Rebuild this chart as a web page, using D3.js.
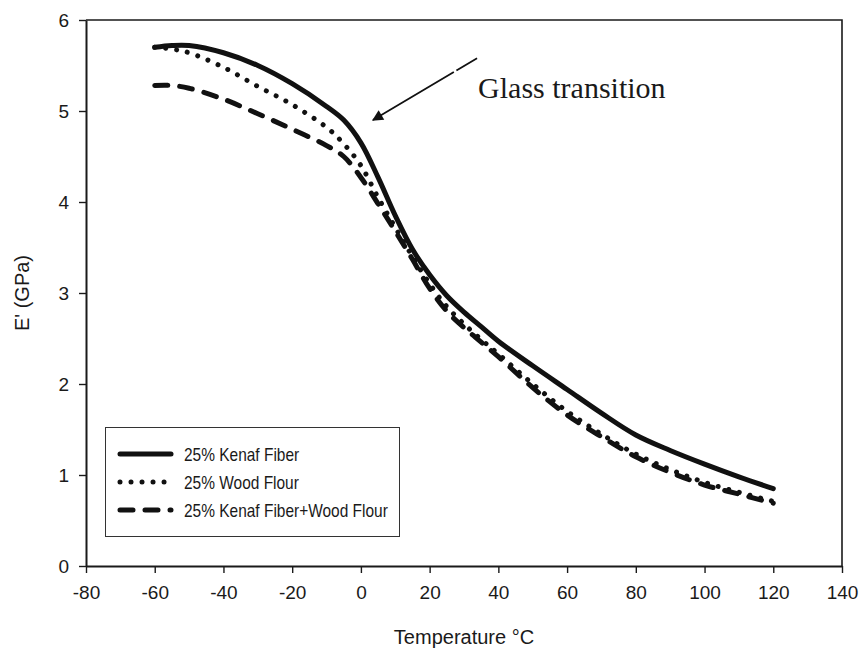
<!DOCTYPE html>
<html lang="en">
<head>
  <meta charset="utf-8">
  <title>Storage modulus vs temperature</title>
  <style type="text/css">
    body { margin: 0; background: #fff; }
    svg { display: block; }
    text { font-family: "Liberation Sans", Arial, sans-serif; fill: #1a1a1a; }
  </style>
  <script src="https://cdnjs.cloudflare.com/ajax/libs/d3/7.8.5/d3.min.js"></script>
</head>
<body>
<div id="chart"></div>
<script>
  var temps = [-60, -55, -50, -40, -30, -20, -10, -5, 0, 5, 10, 15, 20, 25, 30, 35, 40, 50, 60, 70, 80, 90, 100, 110, 120];

  // E' (GPa) for each sample
  var kenafFiber = [5.70, 5.72, 5.72, 5.64, 5.50, 5.30, 5.05, 4.90, 4.65, 4.27, 3.85, 3.48, 3.20, 2.97, 2.79, 2.63, 2.47, 2.20, 1.94, 1.68, 1.44, 1.27, 1.12, 0.98, 0.85];
  var woodFlour = [5.70, 5.68, 5.64, 5.48, 5.27, 5.07, 4.82, 4.64, 4.40, 4.05, 3.72, 3.40, 3.10, 2.85, 2.66, 2.49, 2.33, 2.00, 1.70, 1.45, 1.23, 1.06, 0.92, 0.81, 0.71];
  var kenafWood = [5.28, 5.28, 5.25, 5.13, 4.97, 4.80, 4.62, 4.50, 4.27, 3.98, 3.68, 3.37, 3.05, 2.80, 2.62, 2.46, 2.30, 1.96, 1.66, 1.42, 1.20, 1.03, 0.89, 0.79, 0.69];

  var seriesNames = ["25% Kenaf Fiber", "25% Wood Flour", "25% Kenaf Fiber+Wood Flour"];
  var xTicks = [-80, -60, -40, -20, 0, 20, 40, 60, 80, 100, 120, 140];
  var yTicks = [0, 1, 2, 3, 4, 5, 6];

  var w = 861, h = 656;
  var margin = {top: 20, right: 19, bottom: 90, left: 86};

  var svg = d3.select("#chart").append("svg")
    .attr("width", w)
    .attr("height", h);

  var x = d3.scaleLinear().domain([-80, 140]).range([margin.left, w - margin.right]);
  var y = d3.scaleLinear().domain([0, 6]).range([h - margin.bottom, margin.top]);

  // plain hyphen, no decimals, like the original
  var fmt = function(d) { return String(d); };

  // frame (top + right)
  svg.append("path")
    .attr("d", "M" + x(-80) + "," + y(6) + "H" + x(140) + "V" + y(0))
    .attr("fill", "none")
    .attr("stroke", "#1a1a1a")
    .attr("stroke-width", 1.6);

  var xAxis = svg.append("g")
    .attr("transform", "translate(0," + y(0) + ")")
    .call(d3.axisBottom(x).tickValues(xTicks).tickFormat(fmt).tickSize(7).tickPadding(13).tickSizeOuter(0));

  var yAxis = svg.append("g")
    .attr("transform", "translate(" + x(-80) + ",0)")
    .call(d3.axisLeft(y).tickValues(yTicks).tickFormat(fmt).tickSize(7).tickPadding(10).tickSizeOuter(0));

  [xAxis, yAxis].forEach(function(g) {
    g.select(".domain").attr("stroke", "#1a1a1a").attr("stroke-width", 2);
    g.selectAll(".tick line").attr("stroke", "#1a1a1a").attr("stroke-width", 1.4);
    g.selectAll(".tick text")
      .style("font-family", "'Liberation Sans', Arial, sans-serif")
      .style("font-size", "19px")
      .attr("fill", "#1a1a1a");
  });

  // axis titles
  svg.append("text")
    .attr("x", (x(-80) + x(140)) / 2)
    .attr("y", 644)
    .attr("text-anchor", "middle")
    .style("font-size", "20px")
    .text("Temperature \u00B0C");

  svg.append("text")
    .attr("transform", "translate(29," + ((y(0) + y(6)) / 2) + ") rotate(-90)")
    .attr("text-anchor", "middle")
    .style("font-size", "20px")
    .text("E' (GPa)");

  // curves
  var styles = [
    {data: kenafFiber, dash: null},
    {data: woodFlour, dash: "0.01 11"},
    {data: kenafWood, dash: "13 12"}
  ];

  var line = d3.line()
    .x(function(d) { return x(d[0]); })
    .y(function(d) { return y(d[1]); })
    .curve(d3.curveCatmullRom.alpha(0.5));

  svg.append("g").selectAll("path")
    .data(styles)
    .enter().append("path")
    .attr("d", function(s) { return line(temps.map(function(t, i) { return [t, s.data[i]]; })); })
    .attr("fill", "none")
    .attr("stroke", "#111")
    .attr("stroke-width", 5)
    .attr("stroke-linecap", "round")
    .attr("stroke-linejoin", "round")
    .attr("stroke-dasharray", function(s) { return s.dash; });

  // legend
  var legend = svg.append("g");
  legend.append("rect")
    .attr("x", 105.5).attr("y", 427.5)
    .attr("width", 294).attr("height", 109)
    .attr("fill", "#fff")
    .attr("stroke", "#333")
    .attr("stroke-width", 1);

  var rows = legend.selectAll("g.row")
    .data(styles)
    .enter().append("g")
    .attr("class", "row")
    .attr("transform", function(d, i) { return "translate(0," + (454 + i * 28) + ")"; });

  rows.append("line")
    .attr("x1", 120).attr("x2", 171)
    .attr("stroke", "#111")
    .attr("stroke-width", 5)
    .attr("stroke-linecap", "round")
    .attr("stroke-dasharray", function(s) { return s.dash; });

  // the original legend font is a bit condensed
  rows.append("text")
    .attr("transform", "translate(184,7) scale(0.86,1)")
    .style("font-size", "18px")
    .text(function(d, i) { return seriesNames[i]; });

  // annotation
  var note = {text: "Glass transition", tx: 34.1, ty: 5.15, x1: 33.8, y1: 5.58, x2: 3.5, y2: 4.90};

  var defs = svg.append("defs");
  defs.append("marker")
    .attr("id", "head")
    .attr("viewBox", "0 0 10 10")
    .attr("refX", 9).attr("refY", 5)
    .attr("markerWidth", 15).attr("markerHeight", 11)
    .attr("markerUnits", "userSpaceOnUse")
    .attr("orient", "auto")
    .append("path")
    .attr("d", "M0,0L10,5L0,10z")
    .attr("fill", "#111");

  svg.append("line")
    .attr("x1", x(note.x1)).attr("y1", y(note.y1))
    .attr("x2", x(note.x2)).attr("y2", y(note.y2))
    .attr("stroke", "#111")
    .attr("stroke-width", 1.8)
    .attr("stroke-dasharray", "24 3 200")
    .attr("marker-end", "url(#head)");

  svg.append("text")
    .attr("x", x(note.tx))
    .attr("y", y(note.ty) + 1)
    .style("font-family", "'Liberation Serif', 'Times New Roman', serif")
    .style("font-size", "30px")
    .text(note.text);
</script>
</body>
</html>
